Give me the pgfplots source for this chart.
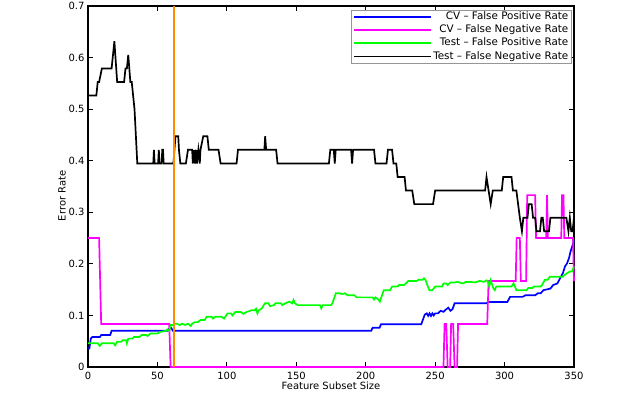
\documentclass[border=0pt]{standalone}
\usepackage{fontspec}
\setmainfont{DejaVu Sans}
\usepackage{pgfplots}
\pgfplotsset{compat=1.18}
\definecolor{myorange}{RGB}{255,140,0}
\definecolor{myblue}{RGB}{0,0,255}
\definecolor{mymagenta}{RGB}{255,0,255}
\definecolor{mygreen}{RGB}{0,255,0}
\definecolor{mygray}{RGB}{150,150,150}
\begin{document}
\begin{tikzpicture}
\path[use as bounding box] (-88bp,-29bp) rectangle (552bp,367bp);
\begin{axis}[
  at={(0,0)}, anchor=south west,
  scale only axis, width=486bp, height=361bp,
  xmin=0, xmax=350, ymin=0, ymax=0.7,
  xtick={0,50,100,150,200,250,300,350},
  ytick={0,0.1,0.2,0.3,0.4,0.5,0.6,0.7},
  /pgf/number format/assume math mode=true,
  major tick length=5bp,
  axis line style={line width=1.2pt},
  every tick/.style={black, line width=1.2pt},
  clip=false,
  xlabel={Feature Subset Size},
  ylabel={Error Rate},
  xlabel style={at={(axis description cs:0.5,0)}, anchor=north, yshift=-14.5bp, inner sep=0pt},
  ylabel style={at={(axis description cs:-0.0535,0.474)}, anchor=center, inner sep=0pt},
  xticklabel style={yshift=-1.5bp},
  legend cell align=right,
  legend style={name=leg, at={(0.9938,0.989)}, anchor=north east, draw=none,
    fill=white, inner xsep=1pt, inner ysep=0pt,
    font=\fontsize{10.4}{12}\selectfont,
    nodes={inner sep=1.5pt, text height=7.8pt, text depth=2.5pt}},
  legend image code/.code={\path (-5bp,0bp) -- (72bp,0bp); \draw[#1, line width=1.7pt] (0bp,0bp) -- (31bp,0bp);},
  every axis plot/.append style={line width=1.7pt},
]
% CV - False Positive Rate
\addplot[color=myblue] coordinates {
(0,0.036) (1,0.036) (2,0.055) (3,0.058) (8.5,0.058) (9.5,0.062) (16,0.062) (17,0.0704)
(57.5,0.0704) (59,0.076) (60,0.076) (61,0.0704) (204,0.0704) (205,0.0762) (210,0.0762)
(211,0.0828) (240,0.0828) (242.5,0.1015) (244,0.104) (245,0.099) (246,0.104) (247,0.099)
(248,0.104) (249,0.100) (250,0.104) (252,0.104) (254,0.109) (256,0.107) (258,0.112)
(259.5,0.115) (261,0.109) (262.5,0.112) (264,0.1235) (287,0.1235) (288,0.126) (302,0.126)
(304,0.136) (313,0.136) (315,0.139) (322,0.139) (324,0.143) (326,0.143) (328,0.149)
(333,0.152) (335,0.159) (338,0.162) (340,0.172) (342,0.182) (343.5,0.195) (345,0.201)
(346.5,0.212) (347.5,0.224) (348.5,0.232) (350,0.245)
};
\addlegendentry{CV -- False Positive Rate}
% CV - False Negative Rate
\addplot[color=mymagenta] coordinates {
(0,0.25) (8,0.25) (9.5,0.0833) (58.5,0.0833) (59.5,0) (256,0) (256.8,0.0833) (258,0.0833)
(259,0) (260.8,0) (261.5,0.0833) (263,0.0833) (264,0) (265.8,0) (266.5,0.0833)
(287.5,0.0833) (288.5,0.1667) (308,0.1667) (308.7,0.25) (311,0.25) (311.7,0.1667)
(315.5,0.1667) (316.3,0.3333) (322,0.3333) (322.7,0.25) (330,0.25) (330.6,0.3333)
(331.2,0.25) (340.8,0.25) (341.4,0.3333) (342.4,0.3333) (343,0.25) (349.3,0.25) (350,0.1667)
};
\addlegendentry{CV -- False Negative Rate}
% Test - False Positive Rate
\addplot[color=mygreen] coordinates {
(0,0.046) (7,0.046) (8.5,0.041) (10,0.046) (18.5,0.046) (19.5,0.042) (21,0.049) (24,0.049)
(25,0.052) (27.5,0.052) (28,0.046) (29,0.055) (32,0.055) (33,0.058) (37,0.058) (38.5,0.062)
(42,0.062) (43,0.060) (45,0.065) (50,0.065) (52,0.068) (56,0.070) (57,0.073) (58.5,0.070)
(59.5,0.0814) (61,0.0814) (62.6,0.084) (64,0.084) (66,0.0814) (68,0.084) (70,0.0814)
(72,0.084) (74,0.0795) (75,0.084) (77,0.087) (79,0.087) (81,0.091) (84,0.091) (85.5,0.0976)
(89,0.0976) (90,0.094) (92,0.0976) (96,0.0976) (98,0.094) (99,0.0976) (100.5,0.104)
(103,0.104) (104,0.100) (106,0.1065) (110,0.1065) (112,0.103) (114,0.1065) (117.8,0.110)
(120,0.110) (121,0.113) (122,0.104) (123,0.110) (125,0.113) (127.4,0.1235) (130,0.1235)
(131,0.118) (134,0.120) (135,0.1235) (139,0.1235) (140,0.120) (142,0.1235) (145,0.1267)
(147,0.1235) (148,0.130) (149,0.1235) (151,0.120) (167,0.120) (168,0.1138) (169,0.120)
(175,0.120) (176,0.1235) (178.5,0.143) (181,0.143) (183,0.1415) (185,0.143) (187,0.139)
(192,0.139) (193.4,0.135) (205,0.135) (206,0.131) (207,0.135) (209,0.131) (210.2,0.1267)
(213,0.149) (217.5,0.149) (219,0.156) (223,0.156) (224,0.159) (227.5,0.159) (229,0.162)
(230.6,0.1668) (236.6,0.1668) (238,0.169) (241,0.169) (242,0.172) (243,0.169) (245.8,0.149)
(248,0.149) (250,0.156) (255,0.156) (256,0.162) (258,0.162) (259,0.159) (261,0.164)
(264,0.164) (266,0.165) (270,0.162) (272,0.165) (276,0.165) (278,0.164) (280,0.165)
(282,0.167) (285,0.165) (287,0.168) (288,0.166) (289,0.156) (290,0.168) (291,0.160)
(292,0.152) (293,0.149) (294,0.156) (305,0.156) (306.5,0.162) (308.5,0.149) (315.8,0.149)
(317,0.153) (320,0.153) (321,0.156) (326,0.156) (327,0.159) (329,0.169) (331,0.169)
(332.6,0.175) (342,0.175) (343,0.178) (345,0.182) (347,0.185) (348.5,0.185) (350,0.1945)
};
\addlegendentry{Test -- False Positive Rate}
% Test - False Negative Rate
\addplot[color=black] coordinates {
(0,0.5263) (6,0.5263) (7,0.5526) (8,0.5526) (10,0.5789) (17,0.5789) (19,0.6316) (21,0.5526)
(26,0.5526) (27,0.5789) (28,0.5789) (29,0.6053) (30.5,0.5526) (31.5,0.5526) (32.5,0.5263)
(33.5,0.5000) (34.5,0.4474) (35.5,0.3947) (47,0.3947) (47.5,0.4211) (48,0.3947) (50.5,0.3947)
(51,0.4211) (51.5,0.3947) (53,0.3947) (53.5,0.4211) (54,0.4211) (54.5,0.3947) (61.5,0.3947)
(63,0.4474) (65,0.4474) (65.5,0.4211) (66.5,0.3947) (70.5,0.3947) (72,0.4211) (75,0.4211)
(75.5,0.3947) (76.5,0.4211) (77,0.3947) (78,0.4211) (78.5,0.3947) (79.5,0.4211) (80.5,0.3947)
(81,0.4211) (83,0.4474) (86,0.4474) (87,0.4211) (94,0.4211) (95.5,0.3947) (107,0.3947)
(108,0.4211) (127,0.4211) (127.6,0.4474) (128.3,0.4211) (135.5,0.4211) (136.5,0.3947)
(173.5,0.3947) (174.5,0.4211) (177,0.4211) (177.7,0.3947) (178.4,0.4211) (189.5,0.4211)
(190.2,0.3947) (190.9,0.4211) (206,0.4211) (207,0.3947) (215,0.3947) (216,0.4211)
(219,0.4211) (220,0.3947) (222,0.3947) (223,0.3684) (228,0.3684) (229,0.3421) (233.5,0.3421)
(235,0.3158) (248.5,0.3158) (250,0.3421) (286,0.3421) (287,0.3684) (288.5,0.3421)
(290,0.3158) (291.5,0.3421) (298,0.3421) (299,0.3684) (305,0.3684) (306,0.3421)
(308.5,0.3421) (311,0.2895) (312.5,0.2632) (313.5,0.2895) (316.5,0.2895) (317.5,0.3158)
(319.5,0.3158) (320.5,0.2895) (322,0.2895) (323,0.2632) (325.5,0.2632) (326.5,0.2895)
(327.5,0.2895) (328.5,0.2632) (332,0.2632) (333,0.2895) (344.5,0.2895) (346,0.2632)
(347,0.2895) (348,0.2632) (349,0.2632) (350,0.2895)
};
\addlegendentry{Test -- False Negative Rate}
% selected subset size marker
\addplot[color=myorange, forget plot] coordinates {(62,0) (62,0.7)};
\end{axis}
\draw[mygray, line width=0.9pt] (leg.south west) rectangle (leg.north east);
\end{tikzpicture}
\end{document}
